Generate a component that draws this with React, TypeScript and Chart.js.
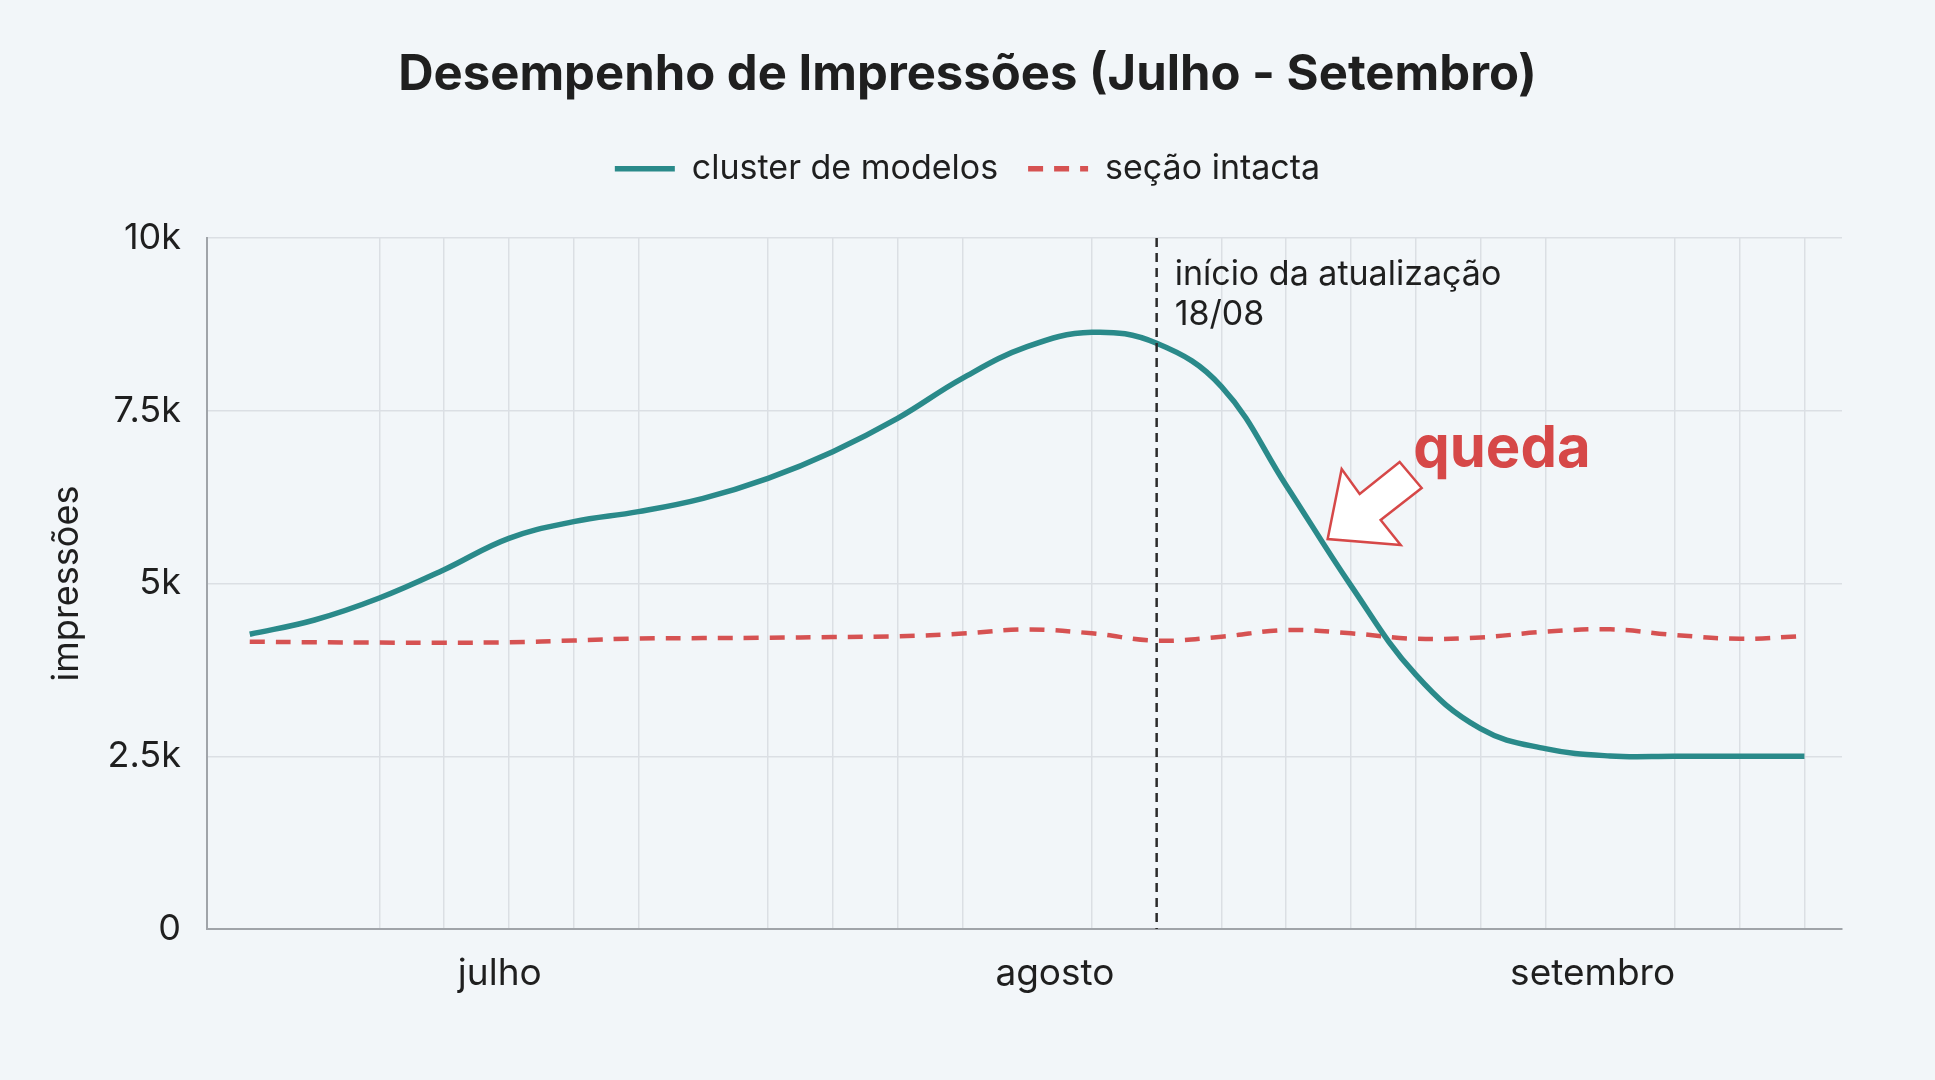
import { useEffect, useRef } from "react";
import { Chart, registerables } from "chart.js";

Chart.register(...registerables);
Chart.defaults.font.family = "Inter";

// x positions are sample indexes across Jul–Sep
const pointIndex = [
  0, 1, 2, 3, 4, 5, 6, 7, 8, 9, 10, 11, 12, 13, 14, 15, 16, 17, 18, 19, 20, 21,
  22, 23, 24,
];
const clusterModelos = [
  4265, 4472, 4790, 5200, 5654, 5895, 6040, 6233, 6522, 6908, 7390, 7969, 8427,
  8635, 8476, 7850, 6420, 4970, 3680, 2900, 2610, 2504, 2500, 2500, 2500,
];
const secaoIntacta = [
  4158, 4150, 4145, 4143, 4150, 4175, 4205, 4210, 4215, 4225, 4235, 4275, 4335,
  4279, 4172, 4230, 4327, 4279, 4200, 4220, 4302, 4337, 4255, 4200, 4240,
];
const seriesNames = ["cluster de modelos", "seção intacta"];

const gridIndex = [2, 3, 4, 5, 6, 8, 9, 10, 11, 13, 15, 16, 17, 18, 19, 20, 22, 23, 24];
const monthPos = [3.86, 12.43, 20.73];
const monthLabels = ["julho", "agosto", "setembro"];
const yTicks = [0, 2500, 5000, 7500, 10000];

const updateIndex = 14;
const updateLabel = ["início da atualização", "18/08"];
const dropLabel = "queda";
const arrowTip = [16.64, 5644];

const BG = "#f2f6f9";
const TEAL = "#2a8a8a";
const RED = "#d65252";
const TEXT = "#1f1f1f";
const GRID = "#dbdfe4";

const annotations = {
  id: "annotations",
  beforeDraw(chart: any) {
    const { ctx, width, height } = chart;
    ctx.save();
    ctx.fillStyle = BG;
    ctx.fillRect(0, 0, width, height);
    ctx.restore();
  },
  afterDatasetsDraw(chart: any) {
    const { ctx, chartArea, scales } = chart;
    const x = scales.x;
    const y = scales.y;
    const lx = x.getPixelForValue(updateIndex);

    ctx.save();
    ctx.strokeStyle = "#2b2b2b";
    ctx.lineWidth = 2.5;
    ctx.setLineDash([9, 6]);
    ctx.beginPath();
    ctx.moveTo(lx, chartArea.top);
    ctx.lineTo(lx, chartArea.bottom);
    ctx.stroke();
    ctx.setLineDash([]);

    ctx.fillStyle = TEXT;
    ctx.font = "34px Inter";
    ctx.textAlign = "left";
    ctx.textBaseline = "alphabetic";
    const ty = y.getPixelForValue(9320);
    ctx.fillText(updateLabel[0], lx + 18, ty);
    ctx.fillText(updateLabel[1], lx + 18, ty + 40);

    // block arrow pointing at the drop
    const tx = x.getPixelForValue(arrowTip[0]);
    const tyy = y.getPixelForValue(arrowTip[1]);
    const shape = [
      [0, 0],
      [14, -70],
      [32, -45],
      [72, -77],
      [94, -51],
      [53, -19],
      [73, 6],
    ];
    ctx.beginPath();
    shape.forEach(([dx, dy], i) => {
      if (i === 0) ctx.moveTo(tx + dx, tyy + dy);
      else ctx.lineTo(tx + dx, tyy + dy);
    });
    ctx.closePath();
    ctx.fillStyle = "#ffffff";
    ctx.fill();
    ctx.strokeStyle = "#d64848";
    ctx.lineWidth = 2.5;
    ctx.stroke();

    ctx.fillStyle = "#d64848";
    ctx.font = "bold 58px Inter";
    ctx.fillText(dropLabel, x.getPixelForValue(17.96), y.getPixelForValue(6686));
    ctx.restore();
  },
};

export default function App() {
  const canvasRef = useRef<HTMLCanvasElement | null>(null);

  useEffect(() => {
    document.body.style.margin = "0";
    document.body.style.background = BG;
    if (!canvasRef.current) return;

    const chart = new Chart(canvasRef.current, {
      type: "line",
      data: {
        datasets: [
          {
            label: seriesNames[0],
            data: pointIndex.map((k, i) => ({ x: k, y: clusterModelos[i] })),
            borderColor: TEAL,
            backgroundColor: TEAL,
            borderWidth: 5.5,
            pointRadius: 0,
            pointStyle: "line",
            tension: 0.4,
          },
          {
            label: seriesNames[1],
            data: pointIndex.map((k, i) => ({ x: k, y: secaoIntacta[i] })),
            borderColor: RED,
            backgroundColor: RED,
            borderWidth: 4.5,
            borderDash: [15, 11],
            pointRadius: 0,
            pointStyle: "line",
            tension: 0.4,
          },
        ],
      },
      options: {
        responsive: false,
        animation: false,
        events: [],
        layout: { padding: 0 },
        plugins: {
          tooltip: { enabled: false },
          title: {
            display: true,
            text: "Desempenho de Impressões (Julho - Setembro)",
            color: TEXT,
            font: { size: 49, weight: "bold" },
            padding: { top: 46, bottom: 17 },
          },
          subtitle: {
            display: true,
            text: "",
            position: "top",
            weight: 500,
            font: { size: 1 },
            padding: { top: 0, bottom: 41 },
          },
          legend: {
            position: "top",
            labels: {
              usePointStyle: true,
              pointStyleWidth: 60,
              padding: 30,
              color: TEXT,
              font: { size: 34 },
              generateLabels: (c: any) =>
                Chart.defaults.plugins.legend.labels
                  .generateLabels(c)
                  .map((item: any) => {
                    const ds: any = c.data.datasets[item.datasetIndex];
                    return {
                      ...item,
                      pointStyle: "line",
                      lineWidth: 5.5,
                      strokeStyle: ds.borderColor,
                      lineDash: ds.borderDash || [],
                    };
                  }),
            },
          },
        },
        scales: {
          x: {
            type: "linear",
            min: -0.66,
            max: 24.58,
            afterBuildTicks: (s: any) => {
              s.ticks = [...gridIndex, ...monthPos]
                .sort((a, b) => a - b)
                .map((v) => ({ value: v }));
            },
            afterFit: (s: any) => {
              s.height = 151;
            },
            ticks: {
              autoSkip: false,
              maxRotation: 0,
              padding: 23,
              color: TEXT,
              font: { size: 37 },
              callback: (v: any) => {
                const i = monthPos.indexOf(v);
                return i >= 0 ? monthLabels[i] : "";
              },
            },
            grid: {
              drawTicks: false,
              lineWidth: 1.5,
              color: (c: any) =>
                c.tick && gridIndex.includes(c.tick.value) ? GRID : "transparent",
            },
            border: { color: "#a0a4a9", width: 2 },
          },
          y: {
            min: yTicks[0],
            max: yTicks[yTicks.length - 1],
            afterFit: (s: any) => {
              s.width = 207;
            },
            ticks: {
              stepSize: 2500,
              padding: 26,
              color: TEXT,
              font: { size: 36 },
              callback: (v: any) => (v === 0 ? "0" : `${v / 1000}k`),
            },
            grid: { drawTicks: false, lineWidth: 1.5, color: GRID },
            border: { color: "#a0a4a9", width: 2 },
            title: {
              display: true,
              text: "impressões",
              color: TEXT,
              font: { size: 36 },
              padding: { top: 46, bottom: 0 },
            },
          },
          // empty right gutter so title and legend stay centred on the page
          gutter: {
            position: "right",
            display: true,
            ticks: { display: false },
            grid: { display: false },
            border: { display: false },
            afterFit: (s: any) => {
              s.width = 93;
            },
          },
        },
      },
      plugins: [annotations],
    } as any);

    return () => {
      chart.destroy();
    };
  }, []);

  return (
    <div style={{ width: "1935px", height: "1080px" }}>
      <canvas ref={canvasRef} width={1935} height={1080} style={{ display: "block" }} />
    </div>
  );
}
